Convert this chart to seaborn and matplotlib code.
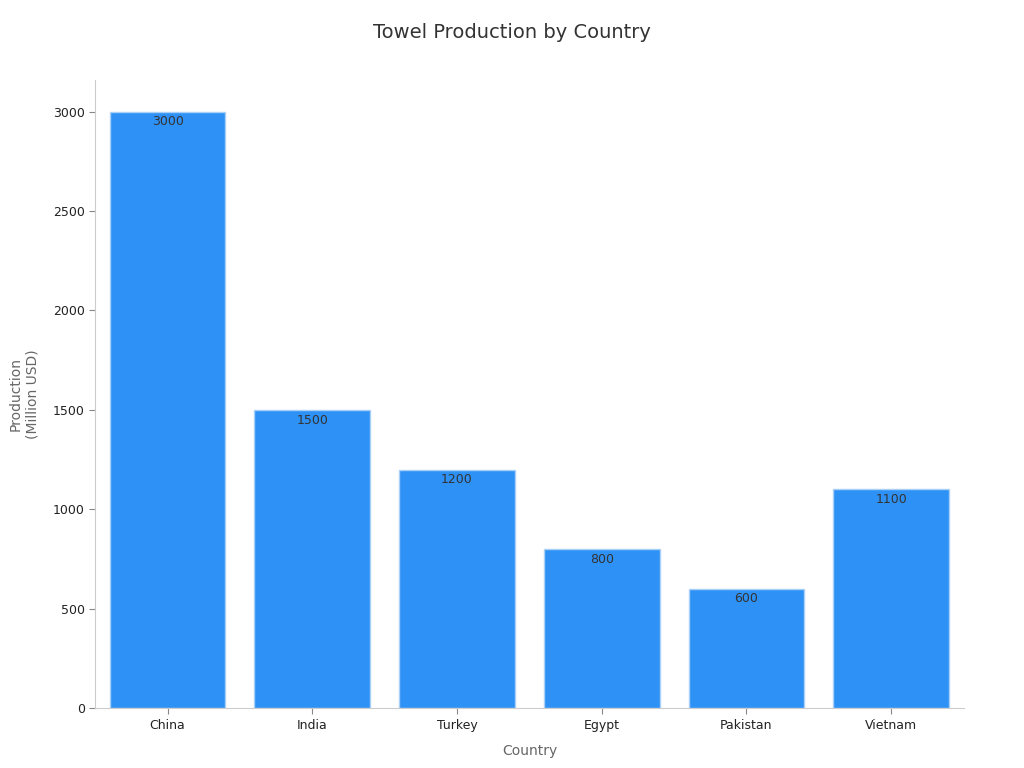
import matplotlib
matplotlib.use("Agg")
import matplotlib.pyplot as plt
import seaborn as sns
import pandas as pd

countries = ["China", "India", "Turkey", "Egypt", "Pakistan", "Vietnam"]
production = [3000, 1500, 1200, 800, 600, 1100]

sns.set_theme(style="white")
plt.rcParams['font.family'] = ['DejaVu Sans']

df = pd.DataFrame({"Country": countries, "Production": production})

fig, ax = plt.subplots(figsize=(10.24, 7.68), dpi=100)
fig.subplots_adjust(left=0.093, right=0.941, top=0.896, bottom=0.078)

sns.barplot(data=df, x="Country", y="Production", color="#2E91F6", saturation=1,
            edgecolor="#A9D0F7", linewidth=1, width=0.8, ax=ax)

for c in ax.containers:
    ax.bar_label(c, labels=[f"{v:g}" for v in production], padding=-12,
                 fontsize=9, color="#333333")

ax.set_xlim(-0.5, 5.5)
ax.set_ylim(0, 3160)
ax.set_yticks([0, 500, 1000, 1500, 2000, 2500, 3000])
fig.suptitle("Towel Production by Country", fontsize=14, color="#333333", x=0.5, y=0.97)
ax.set_xlabel("Country", fontsize=10, color="#666666", labelpad=9)
ax.set_ylabel("Production\n(Million USD)", fontsize=10, color="#666666", labelpad=10)

ax.tick_params(axis="both", bottom=True, left=True, labelsize=9, labelcolor="#222222",
               length=4, width=0.8, color="#888888")
for s in ["top", "right"]:
    ax.spines[s].set_visible(False)
for s in ["left", "bottom"]:
    ax.spines[s].set_color("#CCCCCC")
    ax.spines[s].set_linewidth(0.8)

fig.savefig("out.png", dpi=100)
